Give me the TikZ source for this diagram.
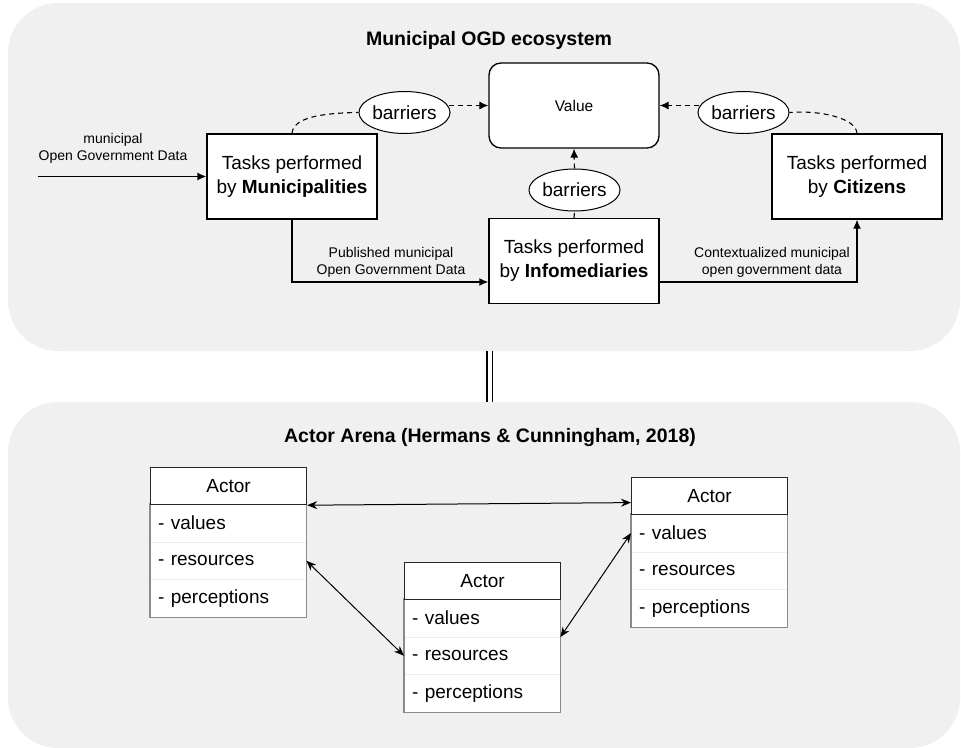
\documentclass[tikz,border=0pt]{standalone}
\usepackage{fontspec}
\setmainfont{Liberation Sans}
\usetikzlibrary{shapes.geometric,arrows.meta,calc}
\definecolor{panelgray}{HTML}{F0F0F0}
\definecolor{rowline}{HTML}{EEEEEE}
\definecolor{frameline}{HTML}{8A8A8A}

% one actor card: #1 name, #2 left x, #3 top y
\newcommand\actorcard[3]{%
  \node[actrow, anchor=north west] (#1-v) at ({#2},{#3+37}) {- values};
  \node[actrow, anchor=north west] (#1-r) at ({#2},{#3+74.7}) {- resources};
  \node[actrow, anchor=north west] (#1-p) at ({#2},{#3+112.4}) {- perceptions};
  \draw[rowline, line width=1pt] (#1-v.south west) -- (#1-v.south east)
                                 (#1-r.south west) -- (#1-r.south east);
  \draw[frameline, line width=1.2pt] (#1-v.north west) rectangle (#1-p.south east);
  \node[acthead, anchor=north west] (#1) at ({#2},{#3}) {Actor};
}

\begin{document}
\begin{tikzpicture}[x=1pt,y=-1pt,
  panel/.style={fill=panelgray, draw=none, rounded corners=50pt,
    minimum width=952pt, inner sep=0pt},
  heading/.style={font=\fontsize{19.5}{24}\selectfont\bfseries},
  taskbox/.style={draw, fill=white, line width=1.3pt, minimum width=170pt,
    minimum height=85pt, inner sep=0pt, align=center,
    font=\fontsize{19}{24}\selectfont},
  valuebox/.style={taskbox, rounded corners=12pt, font=\fontsize{15.5}{19}\selectfont},
  barrier/.style={ellipse, draw, fill=white, line width=1pt, minimum width=85pt,
    minimum height=42pt, inner sep=0pt, font=\fontsize{19}{24}\selectfont},
  lbl/.style={align=center, font=\fontsize{14}{17}\selectfont},
  flow/.style={line width=1.3pt, -{Latex[length=9pt,width=8pt]}},
  hinder/.style={line width=1.1pt, dash pattern=on 5pt off 4pt},
  hinderarrow/.style={hinder, -{Latex[length=9pt,width=8pt]}},
  link/.style={line width=1pt, {Stealth[length=10pt,width=8pt]}-{Stealth[length=10pt,width=8pt]}},
  acthead/.style={draw=black!85, fill=white, line width=1.2pt, minimum width=156pt,
    minimum height=37pt, inner sep=0pt, font=\fontsize{19}{24}\selectfont},
  actrow/.style={fill=white, minimum width=156pt, minimum height=37.7pt,
    text width=140pt, inner xsep=8pt, inner ysep=0pt, align=left,
    font=\fontsize{19}{24}\selectfont},
]
\useasboundingbox (0,0) rectangle (961,747);

% the two panels and the double bar between them
\node[panel, minimum height=348pt] (eco) at (484,177) {};
\node[panel, minimum height=346pt] (arena) at (484,575) {};
\draw[line width=1.5pt, double=white, double distance=4pt]
  ([xshift=5.5pt]eco.south) -- ([xshift=5.5pt]arena.north);

% ---------- Municipal OGD ecosystem ----------
\node[heading] (ecotitle) at (489,40) {Municipal OGD ecosystem};

\node[taskbox] (mun) at (292,176.5) {Tasks performed\\by \textbf{Municipalities}};
\node[valuebox] (val) at (574,105.5) {Value};
\node[taskbox] (inf) at (574,261) {Tasks performed\\by \textbf{Infomediaries}};
\node[taskbox] (cit) at (857,176.5) {Tasks performed\\by \textbf{Citizens}};

\node[barrier] (b1) at (404.5,112.5) {barriers};
\node[barrier] (b2) at (743.5,112.5) {barriers};
\node[barrier] (b3) at (574.5,190) {barriers};

% data flows
\coordinate (src) at (38,176.5);
\draw[flow] (src) -- (mun.west);
\node[lbl] (srclbl) at (113,148.5) {municipal\\Open Government Data};

\draw[flow] (mun.south) |- ($(inf.west)+(0,21)$);
\node[lbl] (publbl) at (391,262.5) {Published municipal\\Open Government Data};

\draw[flow] ($(inf.east)+(0,21)$) -| (cit.south);
\node[lbl] (ctxlbl) at (772,262.5) {Contextualized municipal\\open government data};

% barriers between tasks and value
\draw[hinder] (mun.north) .. controls (293,118) and (320,113) .. (b1.west);
\draw[hinderarrow] ($(b1.east|-val.west)+(-2,0)$) -- (val.west);

\draw[hinder] (cit.north) .. controls (856,118) and (820,110) .. (b2.east);
\draw[hinderarrow] ($(b2.west|-val.east)+(2,0)$) -- (val.east);

\draw[hinder] (inf.north) -- (b3.south);
\draw[hinderarrow] (b3.north) -- (val.south);

% ---------- Actor Arena ----------
\node[heading] (arenatitle) at (490,437) {Actor Arena (Hermans \& Cunningham, 2018)};

\actorcard{a1}{150}{467}
\actorcard{a2}{404}{562}
\actorcard{a3}{631}{477}

\draw[link] (a1.south east) -- ($(a3.west)+(0,6.5)$);
\draw[link] (a1-r.east) -- (a2-r.west);
\draw[link] (a2-v.south east) -- (a3-v.west);
\end{tikzpicture}
\end{document}
